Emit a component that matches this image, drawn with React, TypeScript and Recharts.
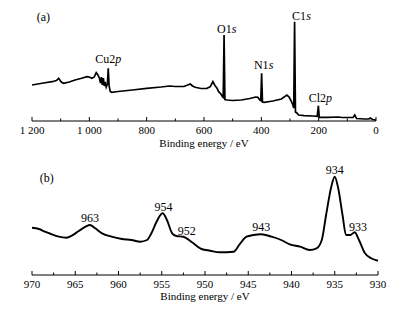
import { LineChart, Line, XAxis, YAxis, ReferenceDot } from 'recharts';

// (a) survey spectrum, binding energy (eV) and intensity (a.u.)
const surveyEnergy = [
  1200, 1180, 1160, 1130, 1115, 1107, 1098, 1090, 1070, 1050, 1030, 1008, 1000, 991, 983, 976,
  970, 965, 961, 958, 955, 951, 948, 945, 941, 937, 934, 931, 927, 922, 900, 850, 800, 750, 720,
  700, 670, 648, 640, 631, 610, 590, 578, 569, 562, 555, 549, 541, 535, 533, 530, 527, 520, 500,
  470, 440, 420, 412, 405, 402, 399, 396, 390, 360, 330, 311, 303, 296, 290, 287, 284, 281, 276,
  270, 250, 220, 205, 201, 198, 170, 130, 120, 80, 74, 68, 40, 25, 20, 12, 0,
];
const surveyCounts = [
  36, 37, 38, 39.3, 40.5, 42.7, 39, 37.7, 39, 41, 42.5, 44.3, 44, 42.7, 44, 48.3,
  46, 43, 38, 44, 36, 43, 35, 39, 34, 37, 52.7, 35, 29.5, 28.7, 29.5, 31, 32.7, 34, 35,
  34.5, 34.5, 37, 35, 33.7, 32.5, 32.7, 34.3, 39.3, 35.5, 33, 29.3, 27, 24, 23.5, 86, 21.5, 21, 20.5,
  21, 22.5, 24, 23.7, 21, 20.5, 47.7, 19, 18.7, 20, 22, 26, 24, 20, 16, 13, 99.3, 9, 8,
  6, 5.3, 5, 4.7, 15.3, 3.7, 3.7, 4, 3.5, 3.5, 6, 2.5, 2, 2, 3, 1.5, 1,
];
const surveyTicks = [0, 100, 200, 300, 400, 500, 600, 700, 800, 900, 1000, 1100, 1200];

// (b) Cu2p region
const cuEnergy = [
  970, 969.2, 968.5, 967.7, 966.9, 966, 965.4, 964.6, 963.8, 963.3, 962.7, 961.9, 960.8, 959.6,
  958.5, 957.5, 956.7, 956.2, 955.6, 954.9, 954.4, 953.8, 953.3, 952.5, 951.5, 950.4, 949.4,
  948.3, 946.7, 946, 945.2, 944.4, 943.5, 942.3, 941.2, 940.2, 939, 937.9, 937.1, 936.5, 936,
  935.4, 935, 934.6, 934.1, 933.7, 933.2, 932.7, 932.2, 931.5, 930.8, 930,
];
const cuCounts = [
  47.3, 46, 43.3, 40.7, 38.3, 37.3, 39.3, 44, 48.3, 50, 46.7, 41.7, 38.3, 36,
  35, 33.3, 35, 41.7, 53.3, 61.7, 55, 41.7, 39, 38.3, 32.7, 26, 24.3,
  22.7, 23.3, 30.7, 38.3, 40, 40.7, 38.3, 35, 30.7, 28.3, 25, 26.7, 35, 60,
  88.3, 98.3, 86.7, 60, 40, 40, 42.7, 35, 21.7, 16.7, 14.3,
];
const cuTicks = [
  930, 932.5, 935, 937.5, 940, 942.5, 945, 947.5, 950, 952.5, 955, 957.5, 960, 962.5, 965, 967.5, 970,
];

// peak labels: [energy, intensity, text, italic suffix]
const surveyLabels: [number, number, string, string][] = [
  [1160, 104, '(a)', ''],
  [934, 62, 'Cu2', 'p'],
  [521, 92, 'O1', 's'],
  [392, 56, 'N1', 's'],
  [260, 105, 'C1', 's'],
  [194, 23, 'Cl2', 'p'],
];
const cuLabels: [number, number, string, string][] = [
  [968.3, 96.7, '(b)', ''],
  [963.3, 56.7, '963', ''],
  [954.8, 68.3, '954', ''],
  [952.1, 44.3, '952', ''],
  [943.5, 48.3, '943', ''],
  [935, 105, '934', ''],
  [932.3, 48.3, '933', ''],
];

const surveyData = surveyEnergy.map((e, i) => ({ e, v: surveyCounts[i] }));
const cuData = cuEnergy.map((e, i) => ({ e, v: cuCounts[i] }));

const FONT = '"Liberation Serif", "DejaVu Serif", serif';

function makeTick(every: number, fmt: (v: number) => string) {
  return (props: any) => {
    const { x, y, payload } = props;
    const major = Math.abs(payload.value % every) < 1e-6;
    return (
      <g>
        <line x1={x} x2={x} y1={y} y2={y - (major ? 4 : 2.5)} stroke="#000" strokeWidth={1} />
        {major && (
          <text x={x} y={y + 13} textAnchor="middle" fontSize={11} fill="#000" fontFamily={FONT}>
            {fmt(payload.value)}
          </text>
        )}
      </g>
    );
  };
}

const fmtSurvey = (v: number) => (v >= 1000 ? `${Math.floor(v / 1000)} ${String(v % 1000).padStart(3, '0')}` : String(v));

function peakText(text: string, suffix: string) {
  return (p: any) => (
    <text x={p.cx} y={p.cy} textAnchor="middle" dominantBaseline="central" fontSize={12} fill="#000" fontFamily={FONT}>
      {text}
      {suffix && <tspan fontStyle="italic">{suffix}</tspan>}
    </text>
  );
}

// x-axis title drawn at the bottom of the axis box
const axisTitle = (offset: number) => ({
  content: (p: any) => {
    const vb = p.viewBox || { x: 0, y: 0, width: 0, height: 0 };
    return (
      <text x={vb.x + vb.width / 2} y={vb.y + vb.height - offset} textAnchor="middle" fontSize={11} fill="#000" fontFamily={FONT}>
        Binding energy / eV
      </text>
    );
  },
});

export default function App() {
  return (
    <div style={{ position: 'absolute', left: 0, top: 0, width: 404, height: 319, background: '#fff', fontFamily: FONT }}>
      <div style={{ position: 'absolute', left: 0, top: 0 }}>
        <LineChart width={404} height={160} data={surveyData} margin={{ top: 21, right: 28, left: 32, bottom: 9 }}>
          <XAxis
            dataKey="e"
            type="number"
            domain={[0, 1200]}
            reversed
            ticks={surveyTicks}
            interval={0}
            tickSize={0}
            tickMargin={0}
            tickLine={false}
            height={30}
            axisLine={{ stroke: '#000', strokeWidth: 1 }}
            tick={makeTick(200, fmtSurvey)}
            label={axisTitle(4)}
          />
          <YAxis hide type="number" domain={[0, 100]} allowDataOverflow />
          <Line type="linear" dataKey="v" stroke="#000" strokeWidth={1.7} dot={false} isAnimationActive={false} />
          {surveyLabels.map(([e, v, t, s]) => (
            <ReferenceDot key={t} x={e} y={v} r={1} ifOverflow="visible" shape={peakText(t, s)} />
          ))}
        </LineChart>
      </div>
      <div style={{ position: 'absolute', left: 0, top: 160 }}>
        <LineChart width={404} height={159} data={cuData} margin={{ top: 15, right: 26, left: 32, bottom: 14 }}>
          <XAxis
            dataKey="e"
            type="number"
            domain={[930, 970]}
            reversed
            ticks={cuTicks}
            interval={0}
            tickSize={0}
            tickMargin={0}
            tickLine={false}
            height={30}
            axisLine={{ stroke: '#000', strokeWidth: 1 }}
            tick={makeTick(5, (v) => String(v))}
            label={axisTitle(5)}
          />
          <YAxis hide type="number" domain={[0, 100]} allowDataOverflow />
          <Line type="monotone" dataKey="v" stroke="#000" strokeWidth={1.9} dot={false} isAnimationActive={false} />
          {cuLabels.map(([e, v, t, s]) => (
            <ReferenceDot key={t} x={e} y={v} r={1} ifOverflow="visible" shape={peakText(t, s)} />
          ))}
        </LineChart>
      </div>
    </div>
  );
}
